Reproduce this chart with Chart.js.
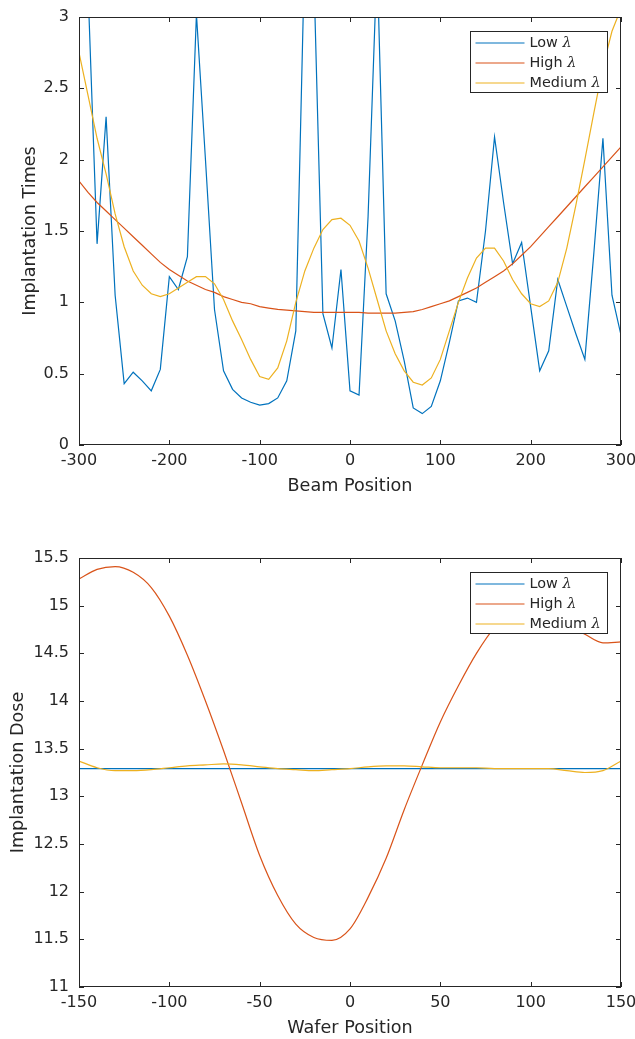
<!DOCTYPE html>
<html>
<head>
<meta charset="utf-8">
<script src="https://cdn.jsdelivr.net/npm/chart.js@4.4.1/dist/chart.umd.min.js"></script>
<style>
  html, body { margin: 0; padding: 0; background: #ffffff; }
  #wrap { position: relative; width: 635px; height: 1039px; background: #ffffff; }
  canvas { position: absolute; left: 0; }
  #c1 { top: 0; }
  #c2 { top: 500px; }
</style>
</head>
<body>
<div id="wrap">
  <canvas id="c1" width="635" height="500"></canvas>
  <canvas id="c2" width="635" height="539"></canvas>
</div>
<script>
// ---------- Top chart data ----------
const beamPos = [-300,-290,-280,-270,-260,-250,-240,-230,-220,-210,-200,-190,-180,-170,-160,-150,-140,-130,-120,-110,-100,-90,-80,-70,-60,-50,-40,-30,-20,-10,0,10,20,30,40,50,60,70,80,90,100,110,120,130,140,150,160,170,180,190,200,210,220,230,240,250,260,270,280,290,300];
const lowTimes = [3.6,3.2,1.41,2.30,1.05,0.43,0.51,0.45,0.38,0.53,1.18,1.09,1.32,3.02,2.0,0.95,0.52,0.39,0.33,0.30,0.28,0.29,0.33,0.45,0.80,3.5,3.3,0.92,0.68,1.23,0.38,0.35,1.6,3.4,1.06,0.87,0.59,0.26,0.22,0.27,0.45,0.72,1.01,1.03,1.0,1.5,2.16,1.7,1.27,1.42,0.97,0.52,0.66,1.16,0.97,0.78,0.6,1.35,2.15,1.05,0.77];
const highTimes = [1.85,1.77,1.70,1.64,1.58,1.52,1.46,1.40,1.34,1.28,1.23,1.19,1.15,1.12,1.09,1.07,1.04,1.02,1.00,0.99,0.97,0.96,0.95,0.945,0.94,0.935,0.93,0.93,0.93,0.93,0.93,0.93,0.925,0.925,0.925,0.925,0.93,0.935,0.95,0.97,0.99,1.01,1.04,1.07,1.10,1.14,1.18,1.22,1.27,1.33,1.39,1.46,1.53,1.60,1.67,1.74,1.81,1.88,1.95,2.02,2.09];
const medTimes = [2.75,2.45,2.15,1.90,1.62,1.39,1.22,1.12,1.06,1.04,1.06,1.10,1.14,1.18,1.18,1.13,1.02,0.87,0.74,0.60,0.48,0.46,0.54,0.73,1.00,1.22,1.38,1.51,1.58,1.59,1.54,1.43,1.24,1.02,0.80,0.64,0.52,0.44,0.42,0.47,0.60,0.80,1.00,1.17,1.31,1.38,1.38,1.29,1.16,1.06,0.99,0.97,1.01,1.14,1.38,1.68,2.0,2.33,2.65,2.90,3.06];

// ---------- Bottom chart data ----------
const waferPos = [-150,-140,-130,-120,-110,-100,-90,-80,-70,-60,-50,-40,-30,-20,-10,0,10,20,30,40,50,60,70,80,90,100,110,120,130,140,150];
const lowDose = [13.29,13.29,13.29,13.29,13.29,13.29,13.29,13.29,13.29,13.29,13.29,13.29,13.29,13.29,13.29,13.29,13.29,13.29,13.29,13.29,13.29,13.29,13.29,13.29,13.29,13.29,13.29,13.29,13.29,13.29,13.29];
const highDose = [15.28,15.38,15.41,15.35,15.19,14.89,14.48,14.00,13.48,12.93,12.38,11.96,11.66,11.52,11.49,11.61,11.94,12.35,12.86,13.33,13.78,14.16,14.50,14.77,14.92,14.96,14.92,14.80,14.70,14.61,14.62];
const medDose = [13.37,13.30,13.27,13.27,13.28,13.30,13.32,13.33,13.34,13.33,13.31,13.29,13.28,13.27,13.28,13.29,13.31,13.32,13.32,13.31,13.30,13.30,13.30,13.29,13.29,13.29,13.29,13.27,13.25,13.27,13.37];

const seriesNames = ['Low λ', 'High λ', 'Medium λ'];
const seriesColors = ['#0072BD', '#D95319', '#EDB120'];

Chart.defaults.font.family = '"DejaVu Sans", sans-serif';
Chart.defaults.color = '#262626';

function pts(xs, ys) { return xs.map((x, i) => ({x: x, y: ys[i]})); }
function plainNum(v) { return String(Math.round(v * 1000) / 1000); }

const AXIS = '#262626';

const framePlugin = {
  id: 'frame',
  afterDatasetsDraw(chart) {
    const ctx = chart.ctx;
    const a = chart.chartArea;
    const xs = chart.scales.x, ys = chart.scales.y;
    ctx.save();
    ctx.strokeStyle = AXIS;
    ctx.lineWidth = 1;
    ctx.beginPath();
    xs.ticks.forEach(t => {
      const px = Math.round(xs.getPixelForValue(t.value)) + 0.5;
      ctx.moveTo(px, a.bottom); ctx.lineTo(px, a.bottom - 5);
      ctx.moveTo(px, a.top); ctx.lineTo(px, a.top + 5);
    });
    ys.ticks.forEach(t => {
      const py = Math.round(ys.getPixelForValue(t.value)) + 0.5;
      ctx.moveTo(a.left, py); ctx.lineTo(a.left + 5, py);
      ctx.moveTo(a.right, py); ctx.lineTo(a.right - 5, py);
    });
    ctx.stroke();
    ctx.strokeRect(Math.round(a.left) + 0.5, Math.round(a.top) + 0.5,
                   Math.round(a.right - a.left) - 1, Math.round(a.bottom - a.top) - 1);

    // legend box (top-right inside axes)
    const bw = 137, bh = 61;
    const bx = Math.round(a.right - 14.5 - bw) + 0.5;
    const by = Math.round(a.top + 13.7) + 0.5;
    ctx.fillStyle = '#ffffff';
    ctx.fillRect(bx, by, bw, bh);
    ctx.strokeStyle = AXIS;
    ctx.strokeRect(bx, by, bw, bh);
    chart.data.datasets.forEach((ds, i) => {
      const ry = by + 11.5 + i * 20;
      ctx.strokeStyle = ds.borderColor;
      ctx.lineWidth = 1.2;
      ctx.beginPath();
      ctx.moveTo(bx + 5, ry); ctx.lineTo(bx + 54, ry);
      ctx.stroke();
      ctx.fillStyle = AXIS;
      ctx.textBaseline = 'middle';
      ctx.textAlign = 'left';
      const label = ds.label;
      const base = label.slice(0, -1);
      ctx.font = '14.4px "DejaVu Sans"';
      ctx.fillText(base, bx + 59, ry);
      const w = ctx.measureText(base).width;
      ctx.font = 'italic 14.4px "DejaVu Serif"';
      ctx.fillText(label.slice(-1), bx + 59 + w, ry);
    });
    ctx.restore();
  }
};

function makeChart(id, xs, lists, opt) {
  const datasets = lists.map((ys, i) => ({
    label: seriesNames[i],
    data: pts(xs, ys),
    borderColor: seriesColors[i],
    backgroundColor: seriesColors[i],
    borderWidth: 1.2,
    pointRadius: 0,
    fill: false,
    tension: 0,
    cubicInterpolationMode: opt.smooth ? 'monotone' : 'default',
    order: 3 - i
  }));
  return new Chart(document.getElementById(id), {
    type: 'line',
    data: { datasets: datasets },
    options: {
      responsive: false,
      animation: false,
      devicePixelRatio: 1,
      layout: { padding: { top: opt.padTop, right: 14, left: 0, bottom: 0 } },
      plugins: { legend: { display: false }, tooltip: { enabled: false } },
      scales: {
        x: {
          type: 'linear',
          min: opt.xMin, max: opt.xMax,
          grid: { display: false, drawTicks: false },
          border: { display: false },
          ticks: { stepSize: opt.xStep, font: { size: 16 }, padding: 6, autoSkip: false, maxRotation: 0, color: AXIS, callback: plainNum },
          title: { display: true, text: opt.xTitle, font: { size: 17.6 }, padding: { top: 0, bottom: opt.xTitlePad }, color: AXIS },
          afterFit(s) { s.height = opt.xHeight; s.paddingLeft = 0; s.paddingRight = 0; }
        },
        y: {
          type: 'linear',
          min: opt.yMin, max: opt.yMax,
          grid: { display: false, drawTicks: false },
          border: { display: false },
          ticks: { stepSize: 0.5, font: { size: 16 }, padding: 10, autoSkip: false, color: AXIS, callback: plainNum },
          title: { display: true, text: opt.yTitle, font: { size: 17.6 }, padding: { top: opt.yTitlePad, bottom: 0 }, color: AXIS },
          afterFit(s) { s.width = 79; s.paddingTop = 0; s.paddingBottom = 0; }
        }
      }
    },
    plugins: [framePlugin]
  });
}

makeChart('c1', beamPos, [lowTimes, highTimes, medTimes], {
  padTop: 17, xMin: -300, xMax: 300, xStep: 100, yMin: 0, yMax: 3,
  xTitle: 'Beam Position', yTitle: 'Implantation Times',
  xHeight: 55, xTitlePad: 3, yTitlePad: 19.4, smooth: false
});

makeChart('c2', waferPos, [lowDose, highDose, medDose], {
  padTop: 58, xMin: -150, xMax: 150, xStep: 50, yMin: 11, yMax: 15.5,
  xTitle: 'Wafer Position', yTitle: 'Implantation Dose',
  xHeight: 52, xTitlePad: 0, yTitlePad: 7.9, smooth: true
});
</script>
</body>
</html>
